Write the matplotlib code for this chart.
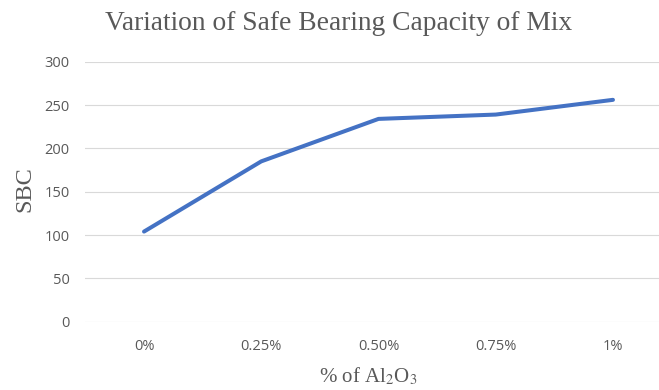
import matplotlib
matplotlib.use("Agg")
import matplotlib.pyplot as plt

# SBC for each Al2O3 content
categories = ["0%", "0.25%", "0.50%", "0.75%", "1%"]
sbc = [104, 185, 234, 239, 256]
y_ticks = [0, 50, 100, 150, 200, 250, 300]

plt.rcParams["mathtext.fontset"] = "stix"

fig = plt.figure(figsize=(6.59, 3.90), dpi=100)
# plot area runs a little past the right edge of the figure
ax = fig.add_axes([0.1296, 0.1751, 0.8895, 0.6667])

x = list(range(len(categories)))
ax.plot(x, sbc, color="#4472C4", linewidth=2.9, solid_capstyle="round",
        solid_joinstyle="round", zorder=3)

ax.set_xlim(-0.5, len(categories) - 0.5)
ax.set_ylim(0, 300)
ax.set_yticks(y_ticks)
ax.set_xticks(x)
ax.set_xticklabels(categories)

ax.grid(axis="y", color="#d9d9d9", linewidth=0.8)
ax.set_axisbelow(True)
for side in ["top", "right", "left", "bottom"]:
    ax.spines[side].set_visible(False)
ax.tick_params(axis="both", length=0, labelsize=10.5, labelcolor="#595959")
ax.tick_params(axis="y", pad=11.5)
ax.tick_params(axis="x", pad=12.5)
for lbl in ax.get_xticklabels() + ax.get_yticklabels():
    lbl.set_fontfamily("Open Sans")

fig.text(0.513, 0.941, "Variation of Safe Bearing Capacity of Mix",
         ha="center", va="center", fontsize=19.8, color="#595959",
         family="Liberation Serif")
fig.text(0.038, 0.515, "SBC", rotation=90, ha="center", va="center",
         fontsize=17.5, color="#595959", family="Liberation Serif")
fig.text(0.558, 0.035, r"% of Al$_2$O$_3$", ha="center", va="center",
         fontsize=15, color="#595959", family="Liberation Serif")

fig.savefig("out.png", dpi=100)
